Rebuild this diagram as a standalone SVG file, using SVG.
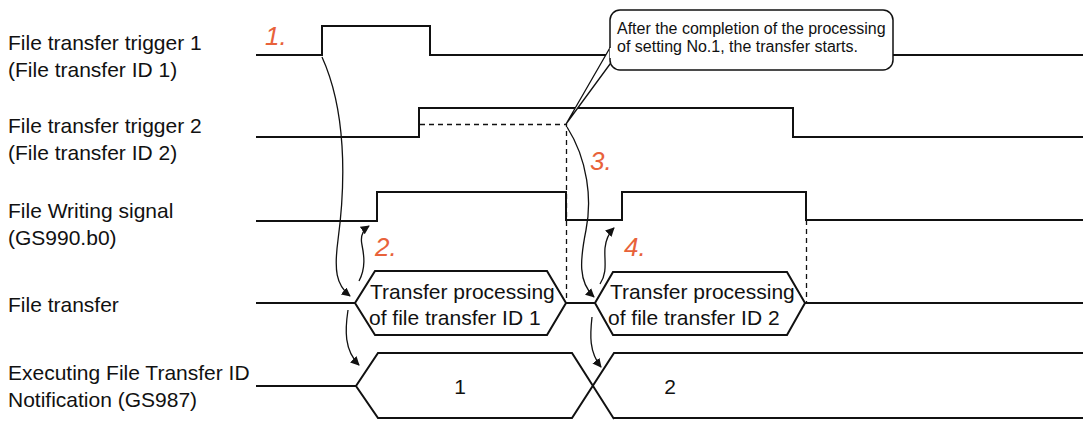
<svg xmlns="http://www.w3.org/2000/svg" width="1083" height="421" viewBox="0 0 1083 421">
<style>
.lbl{font-family:"Liberation Sans",Arial,sans-serif;font-size:21px;fill:#111}
.num{font-family:"Liberation Sans",Arial,sans-serif;font-size:26px;font-style:italic;fill:#E8623A}
.call{font-family:"Liberation Sans",Arial,sans-serif;font-size:16px;fill:#111}
.sig{fill:none;stroke:#111;stroke-width:2;stroke-linejoin:miter}
.dash{fill:none;stroke:#111;stroke-width:1.3;stroke-dasharray:5 4}
.arc{fill:none;stroke:#111;stroke-width:1.3}
</style>
<defs>
<marker id="ah" viewBox="0 0 10 10" refX="9" refY="5" markerWidth="9" markerHeight="9" markerUnits="userSpaceOnUse" orient="auto">
<path d="M0,0 L10,5 L0,10 z" fill="#111"/>
</marker>
</defs>
<rect width="1083" height="421" fill="#fff"/>

<g id="labels">
<text class="lbl" x="8" y="50">File transfer trigger 1</text>
<text class="lbl" x="8" y="77">(File transfer ID 1)</text>
<text class="lbl" x="8" y="133">File transfer trigger 2</text>
<text class="lbl" x="8" y="160">(File transfer ID 2)</text>
<text class="lbl" x="8" y="218">File Writing signal</text>
<text class="lbl" x="8" y="245">(GS990.b0)</text>
<text class="lbl" x="8" y="312">File transfer</text>
<text class="lbl" x="8" y="380">Executing File Transfer ID</text>
<text class="lbl" x="8" y="407">Notification (GS987)</text>
</g>

<g id="trigger1">
<polyline class="sig" points="256,55 322,55 322,26 430,26 430,55 1083,55"/>
</g>
<g id="trigger2">
<polyline class="sig" points="256,137 419,137 419,108 793,108 793,137 1083,137"/>
</g>
<g id="writing">
<polyline class="sig" points="256,221 377,221 377,192 566,192 566,220 622,220 622,192 806,192 806,220 1083,220"/>
</g>
<g id="filetransfer">
<line class="sig" x1="256" y1="303" x2="355" y2="303"/>
<polygon class="sig" points="355,303 375,271 547,271 566,303 547,335 375,335"/>
<line class="sig" x1="566" y1="303" x2="595" y2="303"/>
<polygon class="sig" points="595,303 613,272 787,272 805,303 787,335 613,335"/>
<line class="sig" x1="805" y1="303" x2="1083" y2="303"/>
<text class="lbl" x="370" y="299">Transfer processing</text>
<text class="lbl" x="369" y="325">of file transfer ID 1</text>
<text class="lbl" x="610" y="299">Transfer processing</text>
<text class="lbl" x="608" y="325">of file transfer ID 2</text>
</g>
<g id="executing">
<line class="sig" x1="256" y1="386" x2="356" y2="386"/>
<polyline class="sig" points="614,419 572,353 378,353 356,386 378,418 572,418 614,353 1083,353"/>
<line class="sig" x1="614" y1="418" x2="1083" y2="418"/>
<text class="lbl" x="460" y="394" text-anchor="middle">1</text>
<text class="lbl" x="670" y="394" text-anchor="middle">2</text>
</g>

<g id="connectors">
<polyline class="dash" points="420,124.5 566.5,124.5 566.5,303"/>
<line class="dash" x1="806.5" y1="220" x2="806.5" y2="303"/>
<path class="arc" d="M322,57 C346,110 346,180 338,240 C334,270 336,285 350,296" marker-end="url(#ah)"/>
<path class="arc" d="M359,281 C366,268 364,255 362,245 C360,236 363,230 369,226" marker-end="url(#ah)"/>
<path class="arc" d="M567,127 C588,160 592,200 586,230 C580,260 578,282 594,297" marker-end="url(#ah)"/>
<path class="arc" d="M600,284 C608,272 604,260 605,248 C606,238 609,233 614,228" marker-end="url(#ah)"/>
<path class="arc" d="M348,310 C345,330 344,350 359,365" marker-end="url(#ah)"/>
<path class="arc" d="M592,317 C590,335 589,352 601,367" marker-end="url(#ah)"/>
</g>

<g id="steps">
<text class="num" x="265" y="45">1.</text>
<text class="num" x="375" y="256">2.</text>
<text class="num" x="590" y="170">3.</text>
<text class="num" x="624" y="256">4.</text>
</g>

<g id="callout">
<polyline points="611,46 566,124 613,60" fill="#fff" stroke="#111" stroke-width="1.3" stroke-linejoin="miter"/>
<rect x="610" y="10" width="283" height="60" rx="10" fill="#fff" stroke="#111" stroke-width="1.5"/>
<line x1="610.8" y1="48" x2="610.8" y2="58" stroke="#fff" stroke-width="2"/>
<text class="call" x="617" y="34">After the completion of the processing</text>
<text class="call" x="617" y="52">of setting No.1, the transfer starts.</text>
</g>
</svg>
